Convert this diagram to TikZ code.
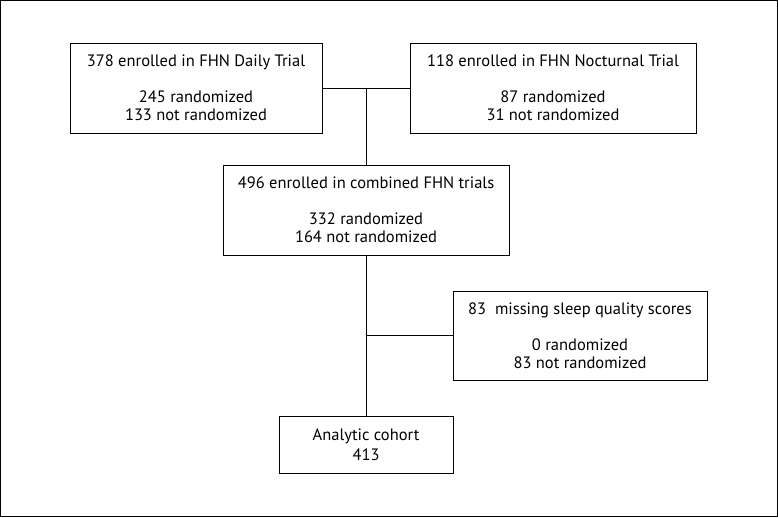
\documentclass[tikz,border=0pt]{standalone}
\usepackage{fontspec}
\setmainfont{PT Sans}
\usepackage{tikz}
\usetikzlibrary{positioning}

\begin{document}
\begin{tikzpicture}[x=1pt, y=-1pt,
  FHN/.style={rectangle, draw=black, line width=1pt, align=center, inner sep=0pt,
    font=\fontsize{16.5}{18}\selectfont},
  link/.style={draw=black, line width=1pt}]
\useasboundingbox (0,0) rectangle (778,517);
\draw[line width=1.2pt] (0.6,0.6) rectangle (777.4,516.4);

%Nodes
\node[FHN, minimum width=252pt, minimum height=90pt] (daily) at (196,88) {378 enrolled in FHN Daily Trial\\[18pt] 245 randomized\\ 133 not randomized};
\node[FHN, minimum width=286pt, minimum height=90pt] (noct) at (553,88) {118 enrolled in FHN Nocturnal Trial\\[18pt] 87 randomized\\ 31 not randomized};
\node[FHN, minimum width=286pt, minimum height=90pt] (comb) at (366,210) {496 enrolled in combined FHN trials\\[18pt] 332 randomized\\ 164 not randomized};
\node[FHN, minimum width=254pt, minimum height=89pt] (miss) at (580,335.5) {83~~missing sleep quality scores\\[18pt] 0 randomized\\ 83 not randomized};
\node[FHN, minimum width=174pt, minimum height=57pt] (cohort) at (366,444.5) {Analytic cohort\\[2pt] 413};

\coordinate (j1) at (366,88);
\coordinate (j2) at (366,335.5);

%Lines
\draw[link] (daily.east) -- (noct.west);
\draw[link] (j1) -- (comb.north);
\draw[link] (comb.south) -- (cohort.north);
\draw[link] (j2) -- (miss.west);

\end{tikzpicture}
\end{document}
